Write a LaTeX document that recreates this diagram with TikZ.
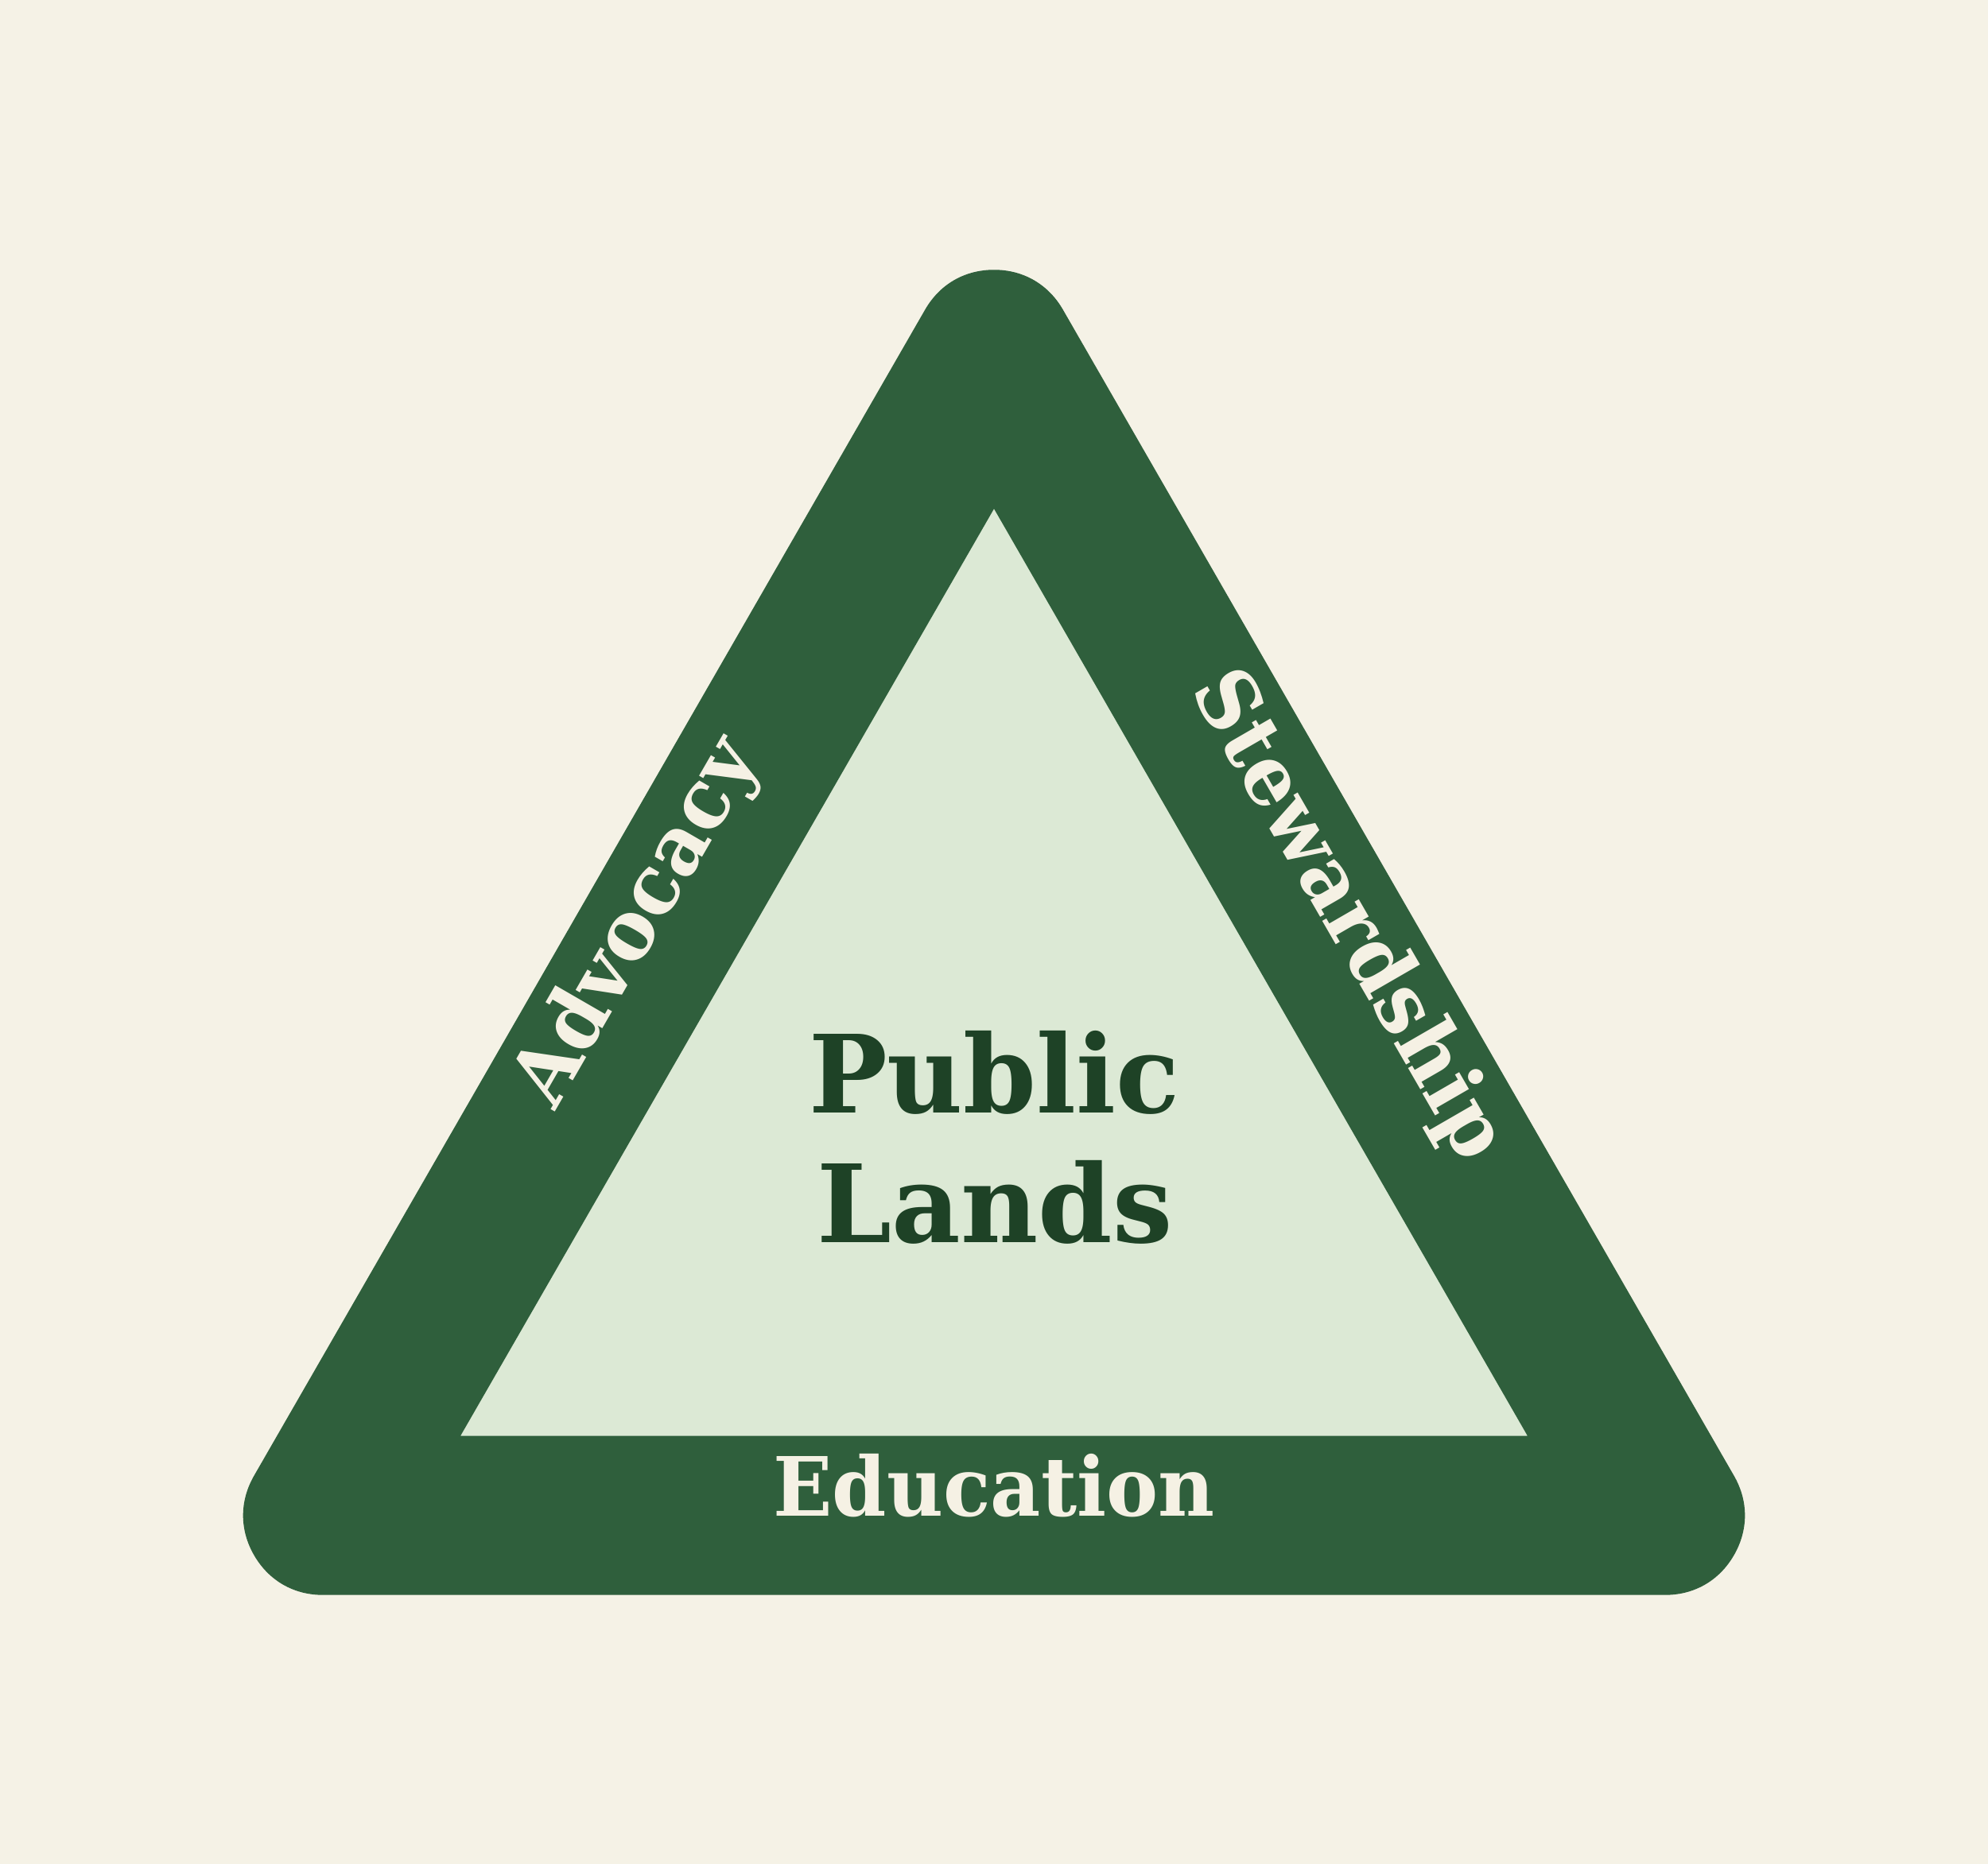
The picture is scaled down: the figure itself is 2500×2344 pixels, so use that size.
\documentclass[tikz,border=0pt]{standalone}
\usepackage{fontspec}
\setmainfont{DejaVu Serif}
\usepackage{graphicx}
\usetikzlibrary{calc}
\definecolor{bgcream}{HTML}{F5F2E6}
\definecolor{bandgreen}{HTML}{2F5F3C}
\definecolor{innergreen}{HTML}{DCE9D5}
\definecolor{textdark}{HTML}{1E4226}
\definecolor{labelcream}{HTML}{F5F1E4}
\begin{document}
\begin{tikzpicture}[x=1pt,y=1pt,
  sidelabel/.style={anchor=base,inner sep=0pt,text=labelcream,font=\fontsize{102.9}{120}\selectfont\bfseries},
  centerlabel/.style={anchor=base,inner sep=0pt,text=textdark,font=\fontsize{135.8}{160}\selectfont\bfseries}]
\fill[bgcream] (0,0) rectangle (2500,2344);
\useasboundingbox (0,0) rectangle (2500,2344);
\coordinate (A) at (1250,1904.7);
\coordinate (B) at (406.1,438.3);
\coordinate (C) at (2093.9,438.3);
\draw[draw=bandgreen, fill=innergreen, line width=200pt, line join=round] (A) -- (B) -- (C) -- cycle;
\node[sidelabel, rotate=60] (adv) at ($(B)!0.4985!(A)$) {\resizebox{515pt}{\height}{Advocacy}};
\node[sidelabel, rotate=-60] (stew) at ($(A)!0.496!(C)$) {\resizebox{690pt}{\height}{Stewardship}};
\node[sidelabel] (edu) at ($(B)!0.5!(C)+(0,-1)$) {\resizebox{555pt}{\height}{Education}};
\node[centerlabel] (pub) at (1250,944) {\resizebox{466pt}{\height}{Public}};
\node[centerlabel] (lands) at (1251,781) {\resizebox{447pt}{\height}{Lands}};
\end{tikzpicture}
\end{document}
